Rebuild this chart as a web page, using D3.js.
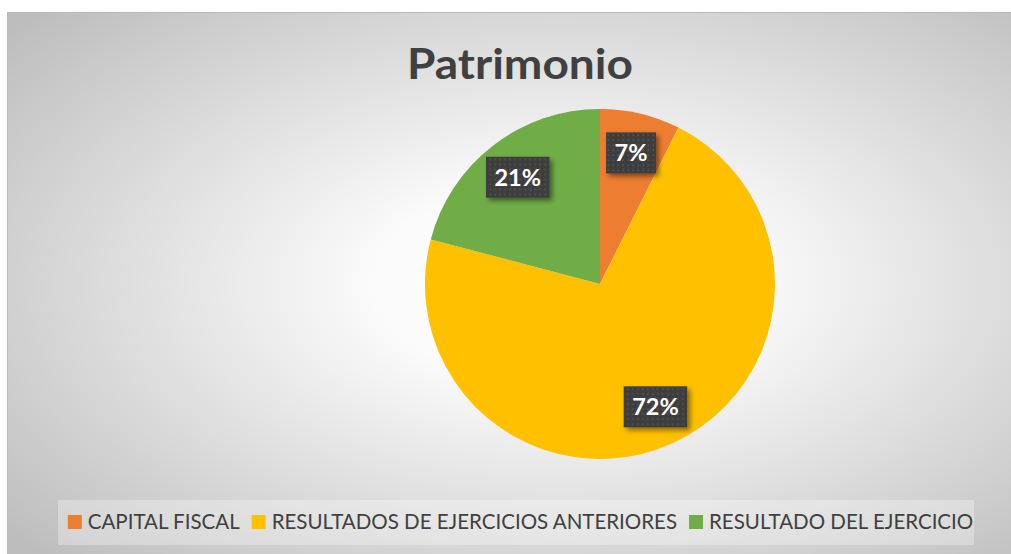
<!DOCTYPE html>
<html><head><meta charset="utf-8">
<script src="https://cdn.jsdelivr.net/npm/d3@7"></script>
<style>html,body{margin:0;padding:0;background:#fff;overflow:hidden}</style>
</head><body>
<svg id="chart" width="1011" height="554"></svg>
<script>
const title = "Patrimonio";
const categories = ["CAPITAL FISCAL", "RESULTADOS DE EJERCICIOS ANTERIORES", "RESULTADO DEL EJERCICIO"];
const values = [7.4, 71.7, 20.9];
const colors = ["#ED7D31", "#FFC000", "#70AD47"];

const W = 1011, H = 554;
const svg = d3.select("#chart");
const defs = svg.append("defs");

const bg = defs.append("radialGradient").attr("id","bgGrad")
  .attr("cx","0.55").attr("cy","0.5").attr("r","0.72");
bg.append("stop").attr("offset","0").attr("stop-color","#ffffff");
bg.append("stop").attr("offset","0.25").attr("stop-color","#fbfbfb");
bg.append("stop").attr("offset","1").attr("stop-color","#bdbdbd");

const pat = defs.append("pattern").attr("id","dots").attr("patternUnits","userSpaceOnUse")
  .attr("width",5).attr("height",5);
pat.append("rect").attr("width",5).attr("height",5).attr("fill","#3e3e3e");
pat.append("rect").attr("x",1.5).attr("y",1.5).attr("width",1.6).attr("height",1.6).attr("fill","#565656");

const sh = defs.append("filter").attr("id","shadow").attr("x","-30%").attr("y","-30%").attr("width","170%").attr("height","170%");
sh.append("feDropShadow").attr("dx",3).attr("dy",3).attr("stdDeviation",2.5).attr("flood-color","#000").attr("flood-opacity",0.45);

const area = {x:7, y:12, w:W-7, h:H-12};
svg.append("rect").attr("x",area.x).attr("y",area.y).attr("width",area.w).attr("height",area.h)
  .attr("fill","url(#bgGrad)");
svg.append("line").attr("x1",area.x).attr("x2",area.x+area.w).attr("y1",area.y+0.5).attr("y2",area.y+0.5)
  .attr("stroke","#b8b8b8").attr("stroke-width",1);
svg.append("line").attr("x1",area.x+0.5).attr("x2",area.x+0.5).attr("y1",area.y).attr("y2",H)
  .attr("stroke","#b8b8b8").attr("stroke-width",1);

// title
svg.append("text").attr("x",520).attr("y",79).attr("text-anchor","middle")
  .attr("font-family","Lato, 'Open Sans', sans-serif").attr("font-weight","bold")
  .attr("font-size",42).attr("fill","#404040")
  .attr("textLength",226).attr("lengthAdjust","spacingAndGlyphs").text(title);

// pie
const cx = 600, cy = 284, R = 175;
const pie = d3.pie().sort(null).value(d => d)(values);
const arc = d3.arc().innerRadius(0).outerRadius(R);
const g = svg.append("g").attr("transform",`translate(${cx},${cy})`);
g.selectAll("path.slice").data(pie).join("path").attr("class","slice")
  .attr("d",arc).attr("fill",(d,i)=>colors[i]);

const total = d3.sum(values);
const labelArc = d3.arc().innerRadius(R*0.77).outerRadius(R*0.77);
const lg = g.selectAll("g.lbl").data(pie).join("g").attr("class","lbl")
  .attr("transform",d=>{const c=labelArc.centroid(d);return `translate(${c[0]},${c[1]})`;});
lg.each(function(d){
  const s = d3.select(this);
  const t = s.append("text").attr("text-anchor","middle").attr("dy","0.36em")
    .attr("font-family","Lato, 'Open Sans', sans-serif").attr("font-weight","bold")
    .attr("font-size",23.5).attr("fill","#ffffff")
    .text(Math.round(d.data/total*100)+"%");
  const w = t.node().getComputedTextLength();
  s.insert("rect","text").attr("x",-w/2-8.5).attr("y",-20.5).attr("width",w+17).attr("height",41)
    .attr("fill","url(#dots)").attr("filter","url(#shadow)");
});

// legend
const leg = svg.append("g");
leg.append("rect").attr("x",58).attr("y",500).attr("width",916).attr("height",45)
  .attr("fill","#ffffff").attr("fill-opacity",0.3);
const items = leg.selectAll("g.item").data(categories).join("g").attr("class","item");
items.append("rect").attr("width",14).attr("height",14).attr("y",-14).attr("fill",(d,i)=>colors[i]);
items.append("text").attr("x",20).attr("y",0)
  .attr("font-family","Lato, 'Open Sans', sans-serif").attr("font-size",20.5).attr("fill","#404040")
  .text(d=>d);
const widths = [];
items.each(function(){ widths.push(20 + d3.select(this).select("text").node().getComputedTextLength()); });
const gap = 12;
const totalW = d3.sum(widths) + gap*(widths.length-1);
let x0 = 520.5 - totalW/2;
items.attr("transform",(d,i)=>{ const x = x0; x0 += widths[i]+gap; return `translate(${x},529)`; });
</script>
</body></html>
